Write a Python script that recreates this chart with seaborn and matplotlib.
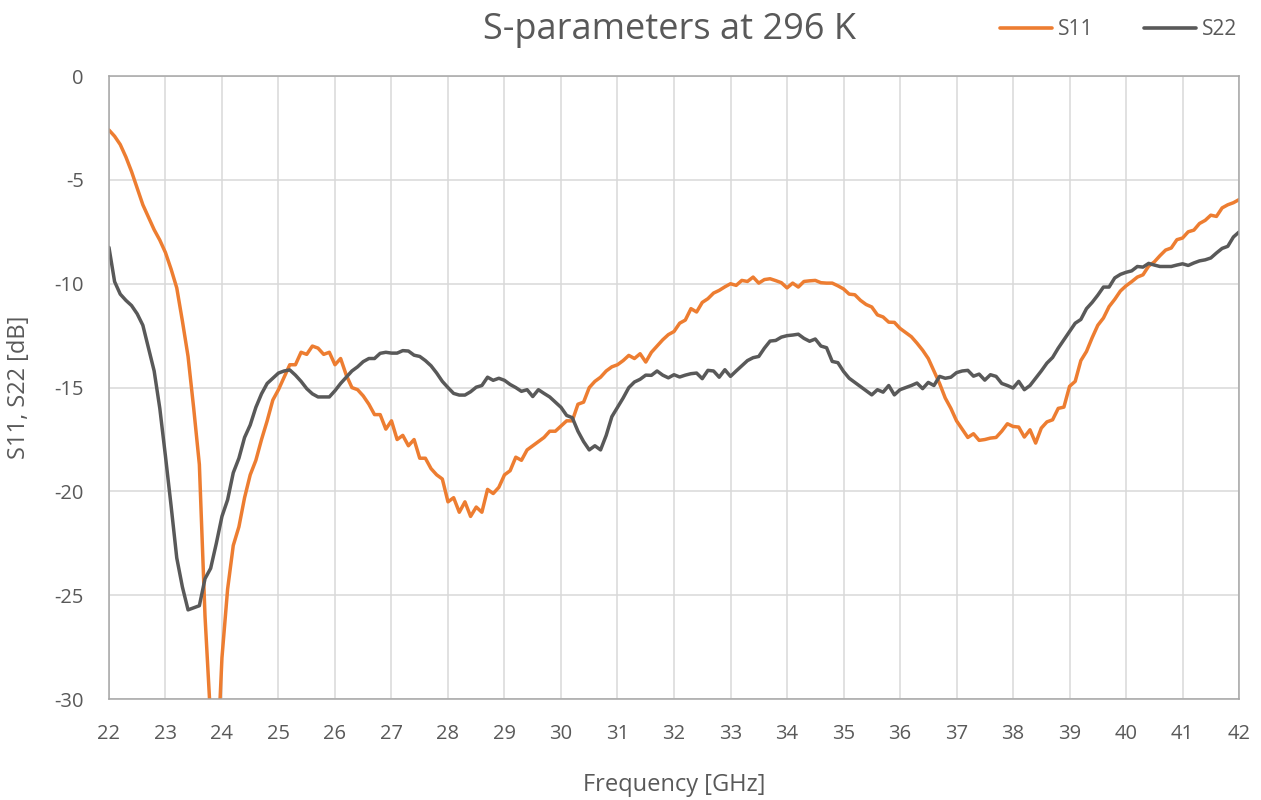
import matplotlib
matplotlib.use('Agg')
import matplotlib.pyplot as plt
import numpy as np
import pandas as pd
import seaborn as sns

# frequency grid, 0.1 GHz steps from 22 to 42 GHz
freq = np.round(np.arange(22.0, 42.0001, 0.1), 1)

s11 = [
    -2.6, -2.9, -3.3, -3.9, -4.6, -5.4, -6.2, -6.8, -7.4, -7.9,
    -8.5, -9.3, -10.2, -11.8, -13.5, -16.0, -18.7, -26.0, -31.0, -34.0,
    -28.0, -24.7, -22.6, -21.7, -20.3, -19.2, -18.5, -17.5, -16.6, -15.6,
    -15.1, -14.5, -13.9, -13.9, -13.3, -13.4, -13.0, -13.1, -13.4, -13.3,
    -13.9, -13.6, -14.4, -15.0, -15.1, -15.4, -15.8, -16.3, -16.3, -17.0,
    -16.6, -17.5, -17.3, -17.8, -17.5, -18.4, -18.4, -18.9, -19.2, -19.4,
    -20.5, -20.3, -21.0, -20.5, -21.2, -20.75, -21.0, -19.9, -20.1, -19.8,
    -19.2, -19.0, -18.35, -18.5, -18.0, -17.8, -17.6, -17.4, -17.1, -17.1,
    -16.85, -16.6, -16.6, -15.8, -15.7, -15.0, -14.7, -14.5, -14.2, -14.0,
    -13.9, -13.7, -13.45, -13.6, -13.37, -13.77, -13.3, -13.0, -12.7, -12.45,
    -12.3, -11.9, -11.75, -11.2, -11.36, -10.9, -10.72, -10.45, -10.32, -10.15,
    -10.0, -10.08, -9.84, -9.89, -9.68, -9.97, -9.8, -9.76, -9.85, -9.95,
    -10.2, -9.97, -10.16, -9.89, -9.86, -9.84, -9.95, -9.97, -9.97, -10.1,
    -10.25, -10.5, -10.53, -10.8, -11.0, -11.12, -11.5, -11.6, -11.85, -11.86,
    -12.15, -12.35, -12.55, -12.86, -13.2, -13.6, -14.2, -14.8, -15.5, -16.0,
    -16.6, -17.0, -17.4, -17.22, -17.54, -17.5, -17.43, -17.4, -17.1, -16.74,
    -16.87, -16.9, -17.38, -17.03, -17.67, -16.95, -16.65, -16.55, -16.0, -15.94,
    -14.94, -14.7, -13.7, -13.26, -12.6, -12.0, -11.65, -11.1, -10.75, -10.35,
    -10.1, -9.9, -9.68, -9.57, -9.15, -8.95, -8.65, -8.38, -8.28, -7.88,
    -7.8, -7.5, -7.42, -7.1, -6.95, -6.7, -6.76, -6.35, -6.2, -6.1,
    -5.95,
]

s22 = [
    -8.25, -9.9, -10.5, -10.8, -11.05, -11.45, -12.0, -13.1, -14.2, -16.0,
    -18.3, -20.7, -23.2, -24.6, -25.7, -25.6, -25.5, -24.2, -23.7, -22.5,
    -21.2, -20.4, -19.1, -18.4, -17.4, -16.8, -15.95, -15.3, -14.8, -14.55,
    -14.3, -14.2, -14.15, -14.4, -14.7, -15.05, -15.3, -15.45, -15.45, -15.45,
    -15.15, -14.8, -14.5, -14.2, -14.0, -13.75, -13.6, -13.6, -13.35, -13.3,
    -13.34, -13.34, -13.22, -13.24, -13.44, -13.5, -13.7, -13.95, -14.3, -14.7,
    -15.0, -15.28, -15.36, -15.36, -15.2, -14.98, -14.9, -14.5, -14.65, -14.55,
    -14.65, -14.85, -15.0, -15.18, -15.1, -15.43, -15.1, -15.28, -15.45, -15.7,
    -15.95, -16.34, -16.45, -17.1, -17.6, -18.0, -17.8, -18.0, -17.3, -16.4,
    -15.95, -15.5, -15.0, -14.73, -14.6, -14.4, -14.41, -14.2, -14.4, -14.53,
    -14.38, -14.49, -14.4, -14.33, -14.3, -14.57, -14.17, -14.2, -14.5, -14.14,
    -14.46, -14.2, -13.95, -13.7, -13.56, -13.5, -13.1, -12.76, -12.73, -12.57,
    -12.5, -12.47, -12.43, -12.63, -12.77, -12.66, -13.0, -13.08, -13.74, -13.8,
    -14.22, -14.55, -14.75, -14.95, -15.15, -15.35, -15.1, -15.22, -14.9, -15.35,
    -15.1, -15.0, -14.9, -14.78, -15.05, -14.75, -14.9, -14.46, -14.55, -14.5,
    -14.28, -14.2, -14.17, -14.45, -14.35, -14.64, -14.38, -14.46, -14.8, -14.9,
    -15.02, -14.7, -15.1, -14.9, -14.55, -14.2, -13.82, -13.55, -13.1, -12.7,
    -12.3, -11.9, -11.72, -11.2, -10.9, -10.55, -10.16, -10.16, -9.72, -9.55,
    -9.45, -9.38, -9.17, -9.2, -9.02, -9.1, -9.17, -9.17, -9.17, -9.1,
    -9.04, -9.12, -9.0, -8.9, -8.85, -8.76, -8.52, -8.3, -8.2, -7.75,
    -7.51,
]

df = pd.DataFrame({'Frequency': np.concatenate([freq, freq]),
                   'dB': s11 + s22,
                   'Series': ['S11'] * len(freq) + ['S22'] * len(freq)})

sns.set_style('white')
plt.rcParams['font.family'] = ['Open Sans', 'DejaVu Sans']
plt.rcParams['axes.unicode_minus'] = False
text_color = '#595959'
grid_color = '#d9d9d9'

fig = plt.figure(figsize=(12.61, 8), dpi=100)
ax = fig.add_axes([0.0864, 0.126, 0.8962, 0.779])

sns.lineplot(data=df, x='Frequency', y='dB', hue='Series',
             palette={'S11': '#ED7D31', 'S22': '#595959'},
             linewidth=2.5, ax=ax, legend=False)

ax.set_xlim(22, 42)
ax.set_ylim(-30, 0)
ax.set_xticks(range(22, 43))
ax.set_yticks(range(-30, 1, 5))
ax.grid(True, color=grid_color, linewidth=1.1)
ax.set_axisbelow(True)
for side in ['top', 'right', 'left', 'bottom']:
    ax.spines[side].set_color('#a6a6a6')
    ax.spines[side].set_linewidth(1.1)

ax.tick_params(axis='y', length=0, labelsize=14.5, colors=text_color, pad=18)
ax.tick_params(axis='x', length=0, labelsize=14.5, colors=text_color, pad=18)
ax.set_xlabel('Frequency [GHz]', fontsize=17, color=text_color, labelpad=21)
ax.set_ylabel('S11, S22 [dB]', fontsize=17, color=text_color, labelpad=17)

fig.text(0.531, 0.962, 'S-parameters at 296 K', ha='center', va='center',
         fontsize=26, color=text_color)

handles = [plt.Line2D([], [], color='#ED7D31', linewidth=2.6),
           plt.Line2D([], [], color='#595959', linewidth=2.6)]
fig.legend(handles, ['S11', 'S22'], loc='center', bbox_to_anchor=(0.887, 0.963),
           ncol=2, frameon=False, fontsize=15, handlelength=2.5,
           handletextpad=0.3, columnspacing=2.4, labelcolor=text_color)

fig.savefig('out.png', dpi=100)
